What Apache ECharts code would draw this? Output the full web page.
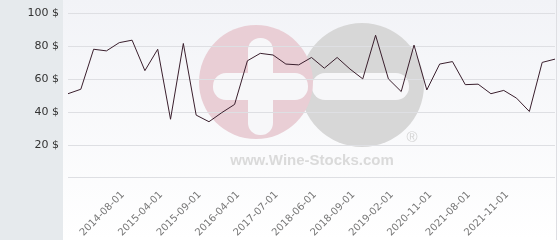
<!DOCTYPE html>
<html><head><meta charset="utf-8">
<script src="https://cdn.jsdelivr.net/npm/echarts@6/dist/echarts.min.js"></script>
<style>html,body{margin:0;padding:0;background:#fff}#c{width:560px;height:240px}</style>
</head><body><div id="c"></div>
<script>
var categories = ['2013-11-01','2014-02-01','2014-04-01','2014-06-01','2014-08-01','2014-11-01','2015-02-01','2015-04-01','2015-06-01','2015-07-01','2015-09-01','2015-11-01','2016-01-01','2016-04-01','2016-08-01','2017-01-01','2017-07-01','2017-11-01','2018-03-01','2018-06-01','2018-07-01','2018-08-01','2018-09-01','2018-11-01','2018-12-01','2019-02-01','2019-09-01','2020-04-01','2020-11-01','2021-02-01','2021-05-01','2021-08-01','2021-09-01','2021-10-01','2021-11-01','2022-01-01','2022-03-01','2022-05-01','2022-07-01'];
var prices = [51,53.7,78,77,82,83.5,65,78,35.5,81.5,38,34,39.5,44.5,71,75.5,74.5,69,68.5,73,66.5,73,66,60,86.5,60,52.3,80.5,53.3,69,70.5,56.5,56.8,51,53,48.3,40.2,70,72];
var tickLabels = ['2014-08-01','2015-04-01','2015-09-01','2016-04-01','2017-07-01','2018-06-01','2018-09-01','2019-02-01','2020-11-01','2021-08-01','2021-11-01'];
var yTicks = [0,20,40,60,80,100];

var chart = echarts.init(document.getElementById('c'));
chart.setOption({
  animation:false,
  grid:{left:68,right:5,top:13,bottom:62},
  graphic:[
    {type:'rect',z:-10,silent:true,shape:{x:0,y:0,width:63,height:240},style:{fill:'#e6eaed'}},
    {type:'rect',z:-10,silent:true,shape:{x:63,y:0,width:497,height:240},style:{fill:new echarts.graphic.LinearGradient(0,0,0,1,[{offset:0,color:'#f2f3f7'},{offset:1,color:'#ffffff'}])}},
    {type:'rect',z:-10,silent:true,shape:{x:556,y:0,width:1,height:240},style:{fill:'#dedfe3'}},
    {type:'circle',z:-5,silent:true,shape:{cx:362,cy:85,r:62},style:{fill:'#d7d7d7'}},
    {type:'rect',z:-5,silent:true,shape:{x:312,y:73,width:97,height:27,r:13},style:{fill:'#f7f7f9'}},
    {type:'circle',z:-4,silent:true,shape:{cx:256,cy:82,r:57},style:{fill:'#e9ced5'}},
    {type:'rect',z:-3,silent:true,shape:{x:248,y:38,width:25,height:97,r:12},style:{fill:'#f7f7f9'}},
    {type:'rect',z:-3,silent:true,shape:{x:213,y:73,width:95,height:27,r:13},style:{fill:'#f7f7f9'}},
    {type:'text',z:-3,silent:true,x:312,y:161,style:{text:'www.Wine-Stocks.com',fill:'#dadada',align:'center',verticalAlign:'middle',font:'bold 15px "Liberation Sans", Arial, sans-serif'}},
    {type:'text',z:-3,silent:true,x:412,y:138,style:{text:'®',fill:'#d4d4d4',align:'center',verticalAlign:'middle',font:'15px "Liberation Sans", Arial, sans-serif'}}
  ],
  xAxis:{
    type:'category',data:categories,boundaryGap:false,
    axisLine:{show:false},axisTick:{show:false},splitLine:{show:false},
    axisLabel:{
      rotate:45,margin:12,color:'#777',fontSize:10,fontFamily:'DejaVu Sans',verticalAlign:'top',
      interval:function(i,v){return tickLabels.indexOf(v)>=0;}
    }
  },
  yAxis:{
    type:'value',min:yTicks[0],max:yTicks[yTicks.length-1],interval:20,
    axisLine:{show:false},axisTick:{show:false},
    splitLine:{lineStyle:{color:'#dedfe3',width:1}},
    axisLabel:{margin:9,color:'#333',fontSize:11,fontFamily:'DejaVu Sans',
      formatter:function(v){return v===0?'':v+' $';}}
  },
  series:[{type:'line',data:prices,symbol:'none',z:5,lineStyle:{color:'#3a1f2d',width:1}}]
});
</script></body></html>
